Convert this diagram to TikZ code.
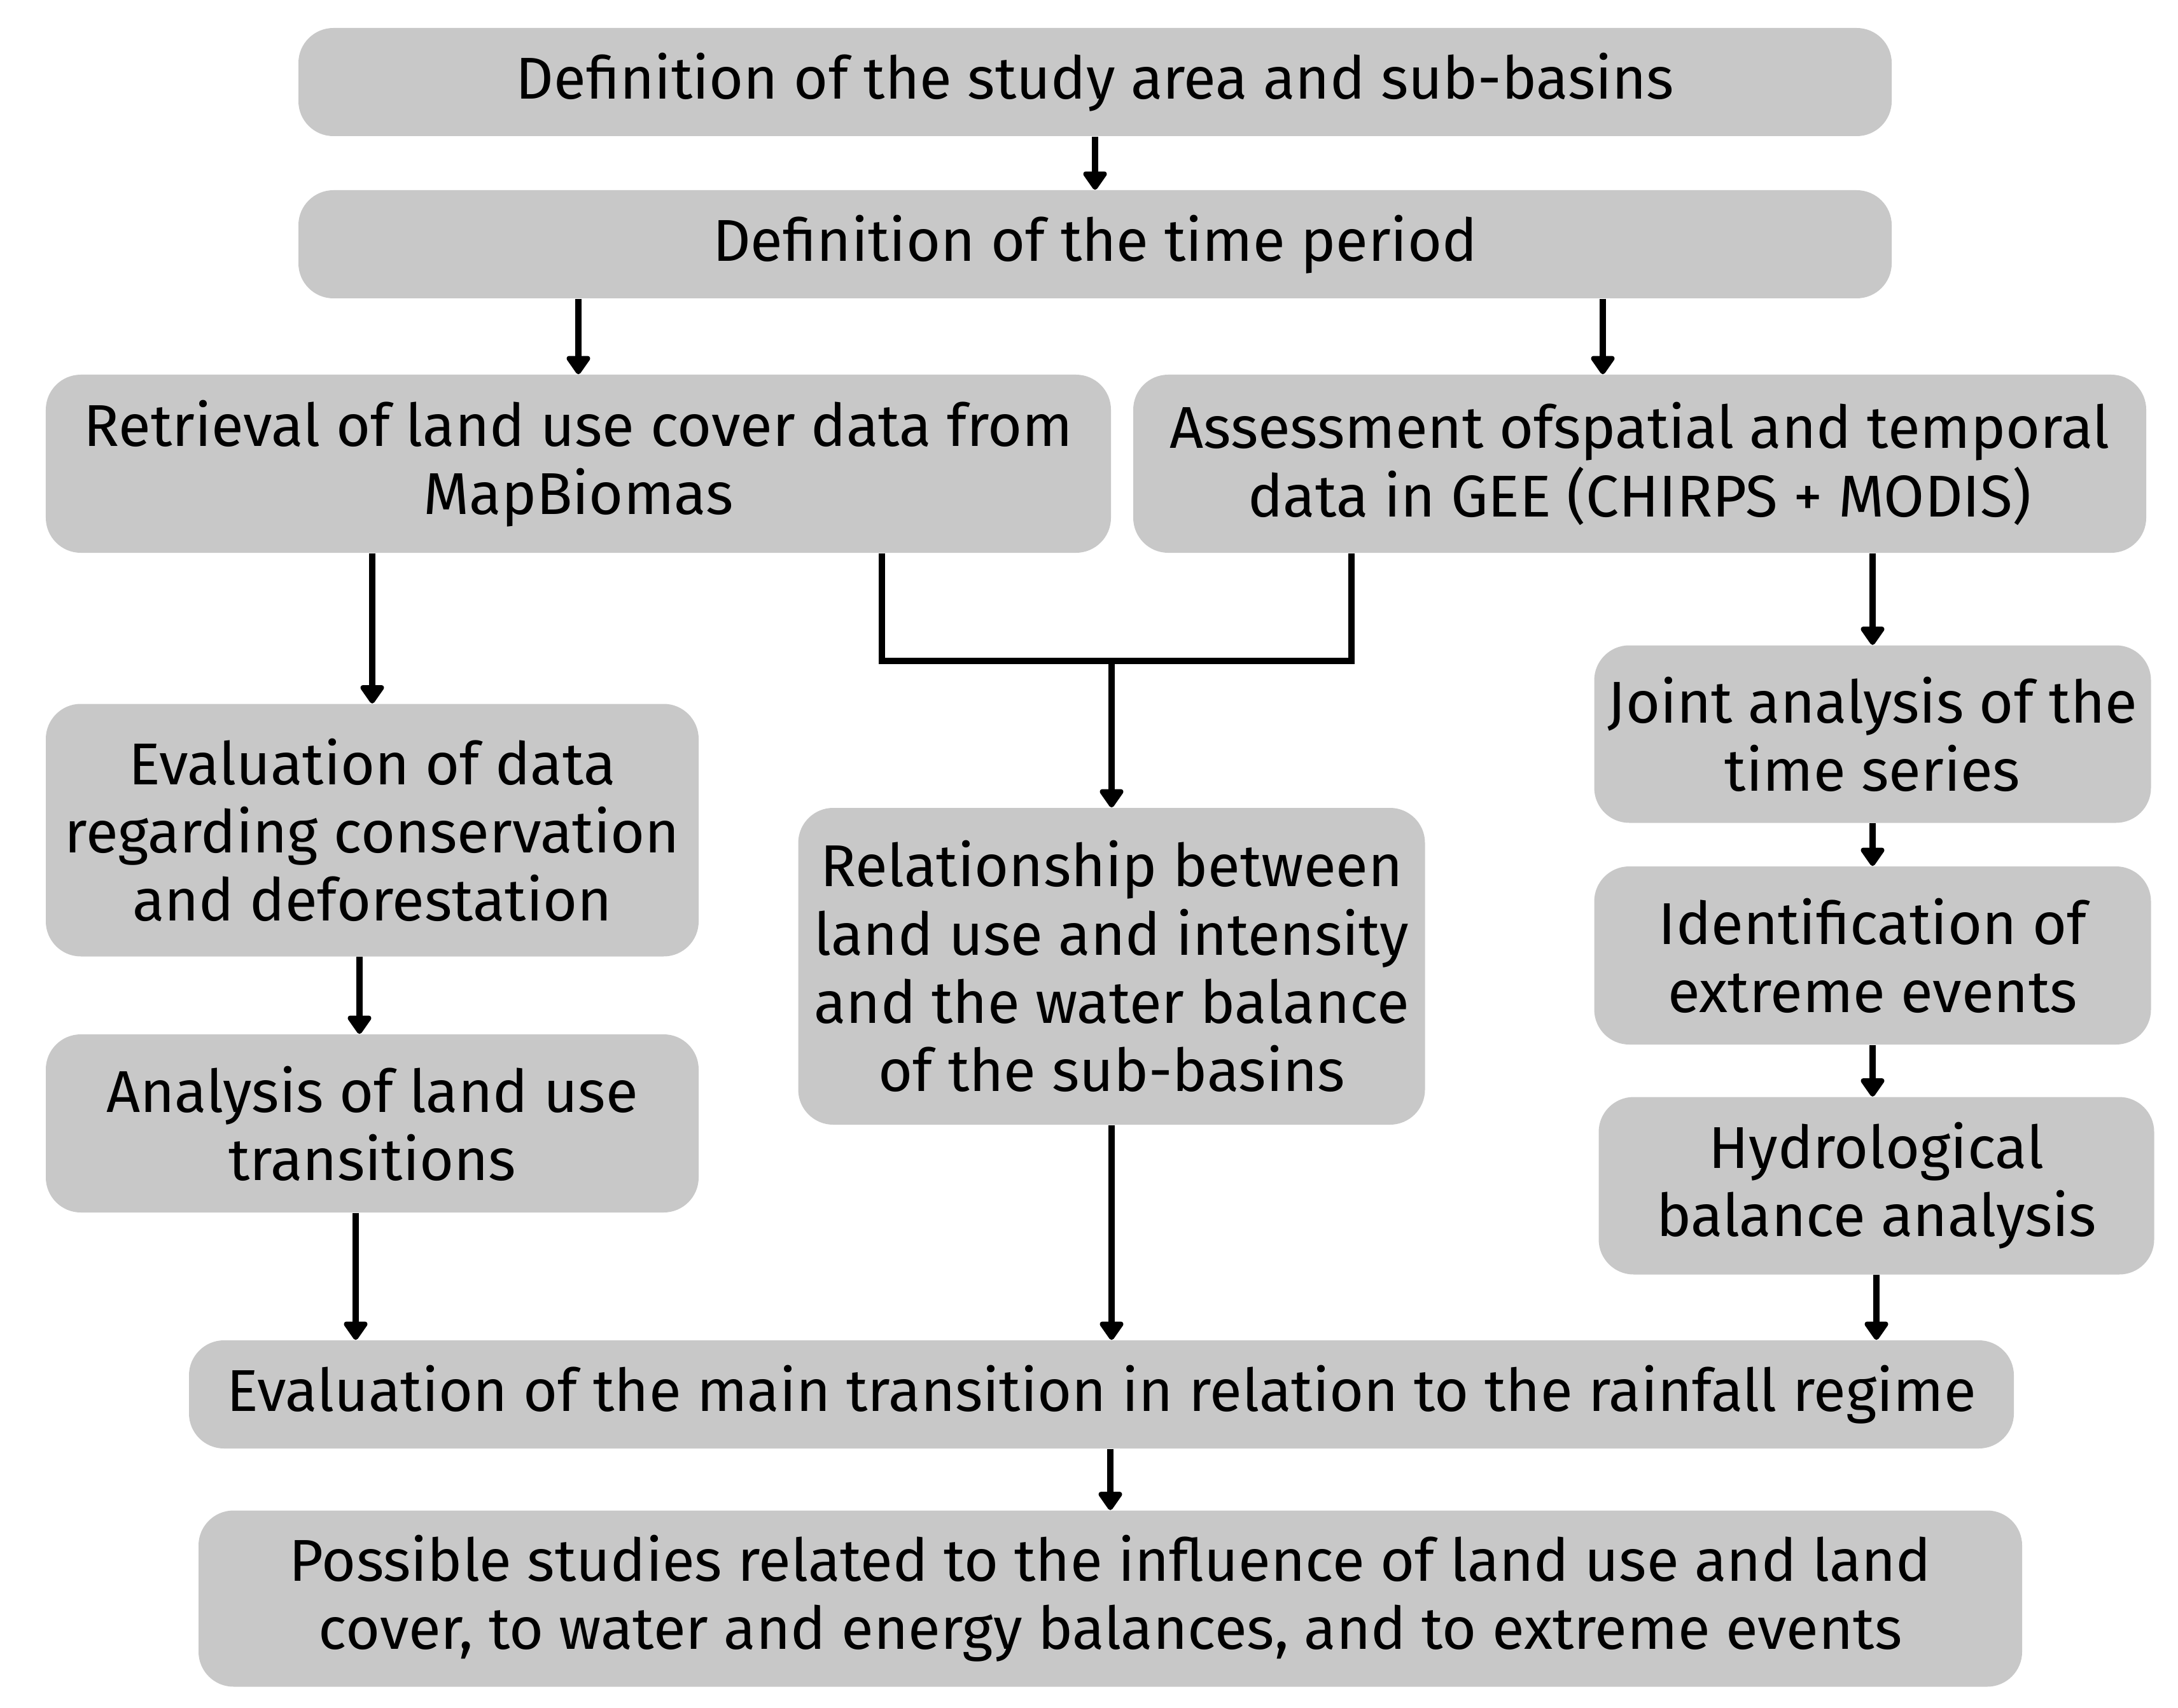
\documentclass[tikz,border=0pt]{standalone}
\usepackage{fontspec}
\setmainfont{Fira Sans}
\usetikzlibrary{arrows.meta}
\definecolor{boxgray}{RGB}{200,200,200}

\begin{document}
\begin{tikzpicture}[
    box/.style={fill=boxgray, rounded corners=0.55cm, align=center, inner sep=0pt,
                font=\fontsize{26.4}{30.5}\selectfont},
    arr/.style={-{Triangle[width=4.2mm,length=3.2mm,round]}, line width=1mm},
    link/.style={line width=1mm}
]
\useasboundingbox (0,0) rectangle (34.23,-26.85);

\node[box, minimum width=25.04cm, minimum height=1.70cm] (study)    at (17.21,-1.29)  {Definition of the study area and sub-basins};
\node[box, minimum width=25.04cm, minimum height=1.70cm] (period)   at (17.21,-3.84)  {Definition of the time period};
\node[box, minimum width=16.74cm, minimum height=2.80cm] (landuse)  at (9.09,-7.29)   {Retrieval of land use cover data from\\MapBiomas};
\node[box, minimum width=15.92cm, minimum height=2.80cm] (gee)      at (25.77,-7.29)  {Assessment ofspatial and temporal\\data in GEE (CHIRPS + MODIS)};
\node[box, minimum width=10.26cm, minimum height=3.97cm] (conserv)  at (5.85,-13.05)  {Evaluation of data\\regarding conservation\\and deforestation};
\node[box, minimum width=10.26cm, minimum height=2.80cm] (trans)    at (5.85,-17.66)  {Analysis of land use\\transitions};
\node[box, minimum width=9.85cm,  minimum height=4.98cm] (relation) at (17.47,-15.19) {Relationship between\\land use and intensity\\and the water balance\\of the sub-basins};
\node[box, minimum width=8.75cm,  minimum height=2.79cm] (joint)    at (29.43,-11.54) {Joint analysis of the\\time series};
\node[box, minimum width=8.75cm,  minimum height=2.80cm] (extreme)  at (29.43,-15.02) {Identification of\\extreme events};
\node[box, minimum width=8.73cm,  minimum height=2.79cm] (hydro)    at (29.49,-18.64) {Hydrological\\balance analysis};
\node[box, minimum width=28.68cm, minimum height=1.70cm] (mainreg)  at (17.31,-21.92) {Evaluation of the main transition in relation to the rainfall regime};
\node[box, minimum width=28.66cm, minimum height=2.77cm] (studies)  at (17.45,-25.13) {Possible studies related to the influence of land use and land\\cover, to water and energy balances, and to extreme events};

\coordinate (join) at (17.47,-10.39);

\draw[arr] (study) -- (period);
\draw[arr] (period.south -| landuse) -- (landuse);
\draw[arr] ([xshift=-0.58cm]period.south -| gee) -- ([xshift=-0.58cm]gee.north);
\draw[arr] (landuse.south -| conserv) -- (conserv);
\draw[arr] ([xshift=-0.2cm]conserv.south) -- ([xshift=-0.2cm]trans.north);
\draw[arr] ([xshift=-0.26cm]trans.south) -- ([xshift=-0.26cm]trans.south |- mainreg.north);
% both data sources meet before the relationship box
\draw[link] ([xshift=4.77cm]landuse.south) |- (join) -| ([xshift=-4.53cm]gee.south);
\draw[arr] (join) -- (relation);
\draw[arr] (relation) -- (relation.south |- mainreg.north);
\draw[arr] (gee.south -| joint) -- (joint);
\draw[arr] (joint) -- (extreme);
\draw[arr] (extreme) -- (extreme.south |- hydro.north);
\draw[arr] (hydro) -- (hydro.south |- mainreg.north);
\draw[arr] (mainreg.south -| studies) -- (studies);

\end{tikzpicture}
\end{document}
